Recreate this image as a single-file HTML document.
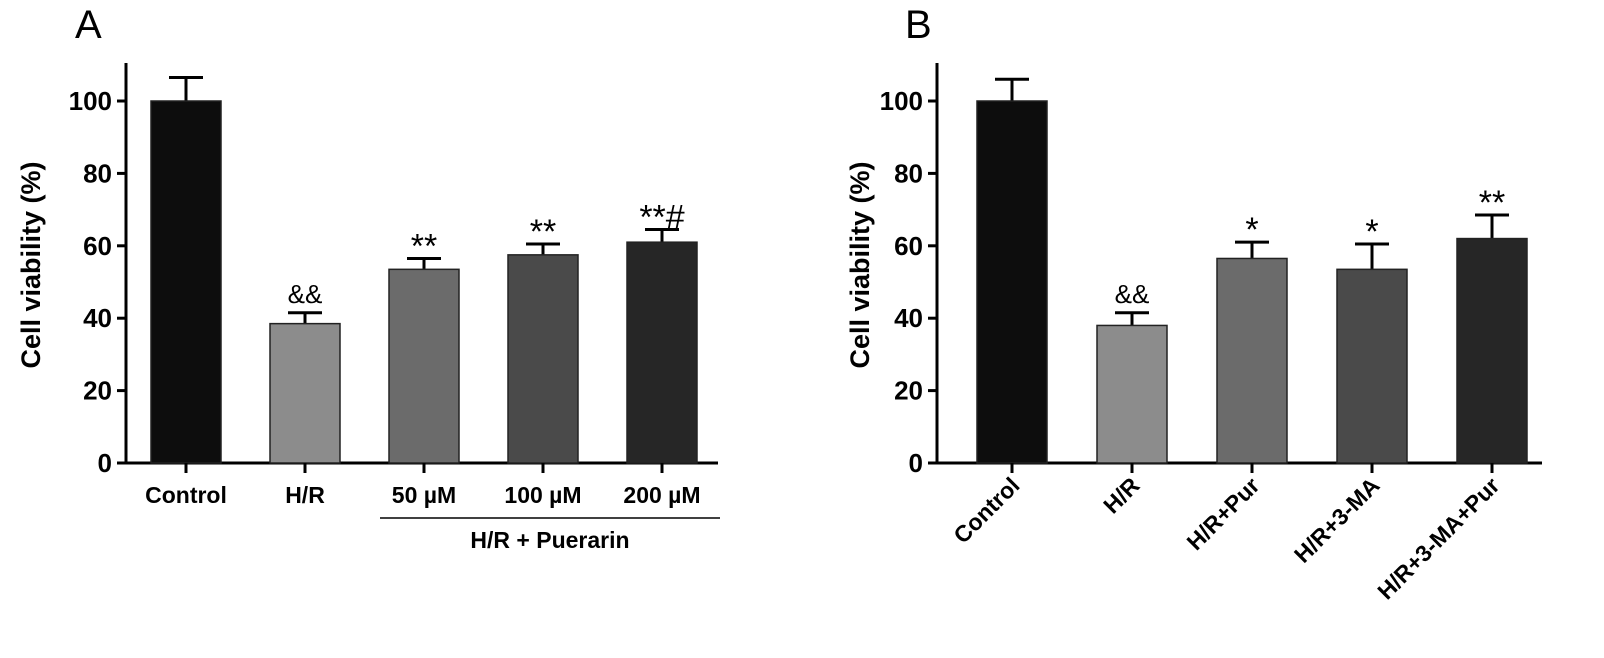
<!DOCTYPE html>
<html><head><meta charset="utf-8">
<style>
html,body{margin:0;padding:0;background:#fff;}
svg{display:block;font-family:"Liberation Sans",Arial,sans-serif;}
</style></head>
<body>
<svg id="chart" width="1604" height="658" viewBox="0 0 1604 658">
<text x="75" y="38" font-size="40">A</text>
<text x="905" y="38" font-size="40">B</text>
<g id="pa"></g>
<g id="pb"></g>
</svg>
<script>
const catsA = ["Control","H/R","50 µM","100 µM","200 µM"];
const valsA = [100,38.5,53.5,57.5,61];
const errA = [6.5,3,3,3,3.5];
const sigA = ["","&&","**","**","**#"];
const catsB = ["Control","H/R","H/R+Pur","H/R+3-MA","H/R+3-MA+Pur"];
const valsB = [100,38,56.5,53.5,62];
const errB = [6,3.5,4.5,7,6.5];
const sigB = ["","&&","*","*","**"];
const ticks = [0,20,40,60,80,100];
const colors = ["#0d0d0d","#8c8c8c","#6b6b6b","#4a4a4a","#262626"];
const NS="http://www.w3.org/2000/svg";
function mk(p,t,a){const e=document.createElementNS(NS,t);for(const k in a)e.setAttribute(k,a[k]);p.appendChild(e);return e;}
function y(v){return 463-v*3.62;}
function panel(g,axX,x0,step,axEnd,cats,vals,errs,sigs,rot,titleOff){
  const ya=mk(g,'line',{x1:axX,y1:63,x2:axX,y2:464,stroke:'#000','stroke-width':3});
  
  
  const xa=mk(g,'line',{x1:axX-8,y1:463,x2:axEnd,y2:463,stroke:'#000','stroke-width':3});
  
  
  ticks.forEach(t=>{
    mk(g,'line',{x1:axX-9,y1:y(t),x2:axX,y2:y(t),stroke:'#000','stroke-width':3});
    const tl=mk(g,'text',{x:axX-14,y:y(t)+9,'font-size':26,'font-weight':'bold','text-anchor':'end'});
    tl.textContent=t;
    
    
  });
  const tt=mk(g,'text',{x:0,y:0,'font-size':27,'font-weight':'bold','text-anchor':'middle',transform:`translate(${axX-titleOff},265) rotate(-90)`});
  tt.textContent='Cell viability (%)';
  
  
  cats.forEach((c,i)=>{
    const cx=x0+i*step, w=70;
    const top=y(vals[i]), et=y(vals[i]+errs[i]);
    mk(g,'line',{x1:cx,y1:top,x2:cx,y2:et,stroke:'#000','stroke-width':3});
    mk(g,'line',{x1:cx-17,y1:et,x2:cx+17,y2:et,stroke:'#000','stroke-width':3});
    const b=mk(g,'rect',{x:cx-w/2,y:top,width:w,height:463-top,fill:colors[i],stroke:'#222','stroke-width':1.5});
    
    
    mk(g,'line',{x1:cx,y1:463,x2:cx,y2:473,stroke:'#000','stroke-width':3});
    if(sigs[i]){
      const amp=sigs[i]=='&&';
      const s=mk(g,'text',{x:cx,y:amp?et-10:et-1,'font-size':amp?26:34,'text-anchor':'middle'});
      s.textContent=sigs[i];
      
      
    }
    let l;
    if(rot){
      l=mk(g,'text',{x:0,y:0,'font-size':23,'font-weight':'bold','text-anchor':'end',transform:`translate(${cx+9},487) rotate(-45)`});
    } else {
      l=mk(g,'text',{x:cx,y:503,'font-size':23,'font-weight':'bold','text-anchor':'middle'});
    }
    l.textContent=c;
    
    
  });
}
panel(document.getElementById('pa'),126,186,119,718,catsA,valsA,errA,sigA,false,86);
panel(document.getElementById('pb'),937,1012,120,1542,catsB,valsB,errB,sigB,true,68);
const pa=document.getElementById('pa');
const br=mk(pa,'line',{x1:380,y1:518,x2:720,y2:518,stroke:'#000','stroke-width':1.5});


const gl=mk(pa,'text',{x:550,y:548,'font-size':23,'font-weight':'bold','text-anchor':'middle'});
gl.textContent='H/R + Puerarin';


</script>
</body></html>
